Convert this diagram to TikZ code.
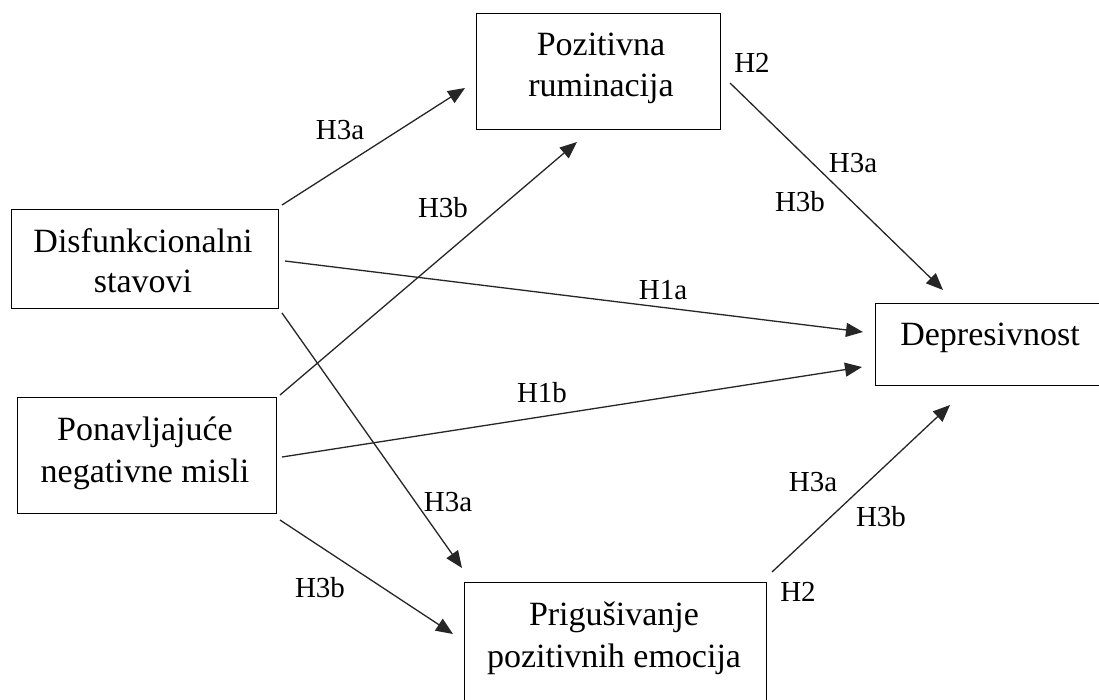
\documentclass[tikz,border=0pt]{standalone}
\usepackage{fontspec}
\setmainfont{Liberation Serif}
\usetikzlibrary{arrows.meta}
\tikzset{
  box/.style={draw=black, line width=1.2pt, inner sep=0pt, anchor=north west},
  btxt/.style={font=\fontsize{34}{40}\selectfont, inner sep=0pt, anchor=base},
  lbl/.style={font=\fontsize{29}{34}\selectfont, inner sep=0pt, anchor=center},
  conn/.style={draw=black!85, line width=1.3pt, -{Triangle[length=17pt,width=14pt]}}
}
\begin{document}
\begin{tikzpicture}[x=1pt,y=-1pt]
\clip (0,0) rectangle (1099,699);
\fill[white] (0,0) rectangle (1099,699);
% boxes
\node[box, minimum width=244pt, minimum height=116pt] (pr) at (476,13) {};
\node[box, minimum width=267pt, minimum height=99pt] (ds) at (11,209) {};
\node[box, minimum width=259pt, minimum height=116pt] (pn) at (17,397) {};
\node[box, minimum width=240pt, minimum height=82pt] (dep) at (875,303) {};
\node[box, minimum width=302pt, minimum height=130pt] (pe) at (464,582) {};
% box texts
\node[btxt] (pr1) at (601,55) {Pozitivna};
\node[btxt] (pr2) at (601,96) {ruminacija};
\node[btxt] (ds1) at (143,252) {Disfunkcionalni};
\node[btxt] (ds2) at (143,292) {stavovi};
\node[btxt] (pn1) at (145,440) {Ponavljajuće};
\node[btxt] (pn2) at (145,482) {negativne misli};
\node[btxt] (dep1) at (990,345) {Depresivnost};
\node[btxt] (pe1) at (614,625) {Prigušivanje};
\node[btxt] (pe2) at (614,667) {pozitivnih emocija};
% connector ends
\coordinate (a1s) at (282,205); \coordinate (a1e) at (465,88);
\coordinate (a2s) at (280,395); \coordinate (a2e) at (577,142);
\coordinate (a3s) at (285,261); \coordinate (a3e) at (863,332);
\coordinate (a4s) at (282,457); \coordinate (a4e) at (862,367);
\coordinate (a5s) at (282,313); \coordinate (a5e) at (462,568);
\coordinate (a6s) at (280,520); \coordinate (a6e) at (453,634);
\coordinate (a7s) at (730,83);  \coordinate (a7e) at (943,290);
\coordinate (a8s) at (772,572); \coordinate (a8e) at (950,405);
\draw[conn] (a1s) -- (a1e);
\draw[conn] (a2s) -- (a2e);
\draw[conn] (a3s) -- (a3e);
\draw[conn] (a4s) -- (a4e);
\draw[conn] (a5s) -- (a5e);
\draw[conn] (a6s) -- (a6e);
\draw[conn] (a7s) -- (a7e);
\draw[conn] (a8s) -- (a8e);
% labels
\node[lbl] (l1) at (340,130) {H3a};
\node[lbl] (l2) at (443,208) {H3b};
\node[lbl] (l3) at (663,290) {H1a};
\node[lbl] (l4) at (542,393) {H1b};
\node[lbl] (l5) at (448,502) {H3a};
\node[lbl] (l6) at (320,588) {H3b};
\node[lbl] (l7) at (752,63) {H2};
\node[lbl] (l8) at (853,163) {H3a};
\node[lbl] (l9) at (800,202) {H3b};
\node[lbl] (l10) at (813,482) {H3a};
\node[lbl] (l11) at (881,517) {H3b};
\node[lbl] (l12) at (798,592) {H2};
\end{tikzpicture}
\end{document}
